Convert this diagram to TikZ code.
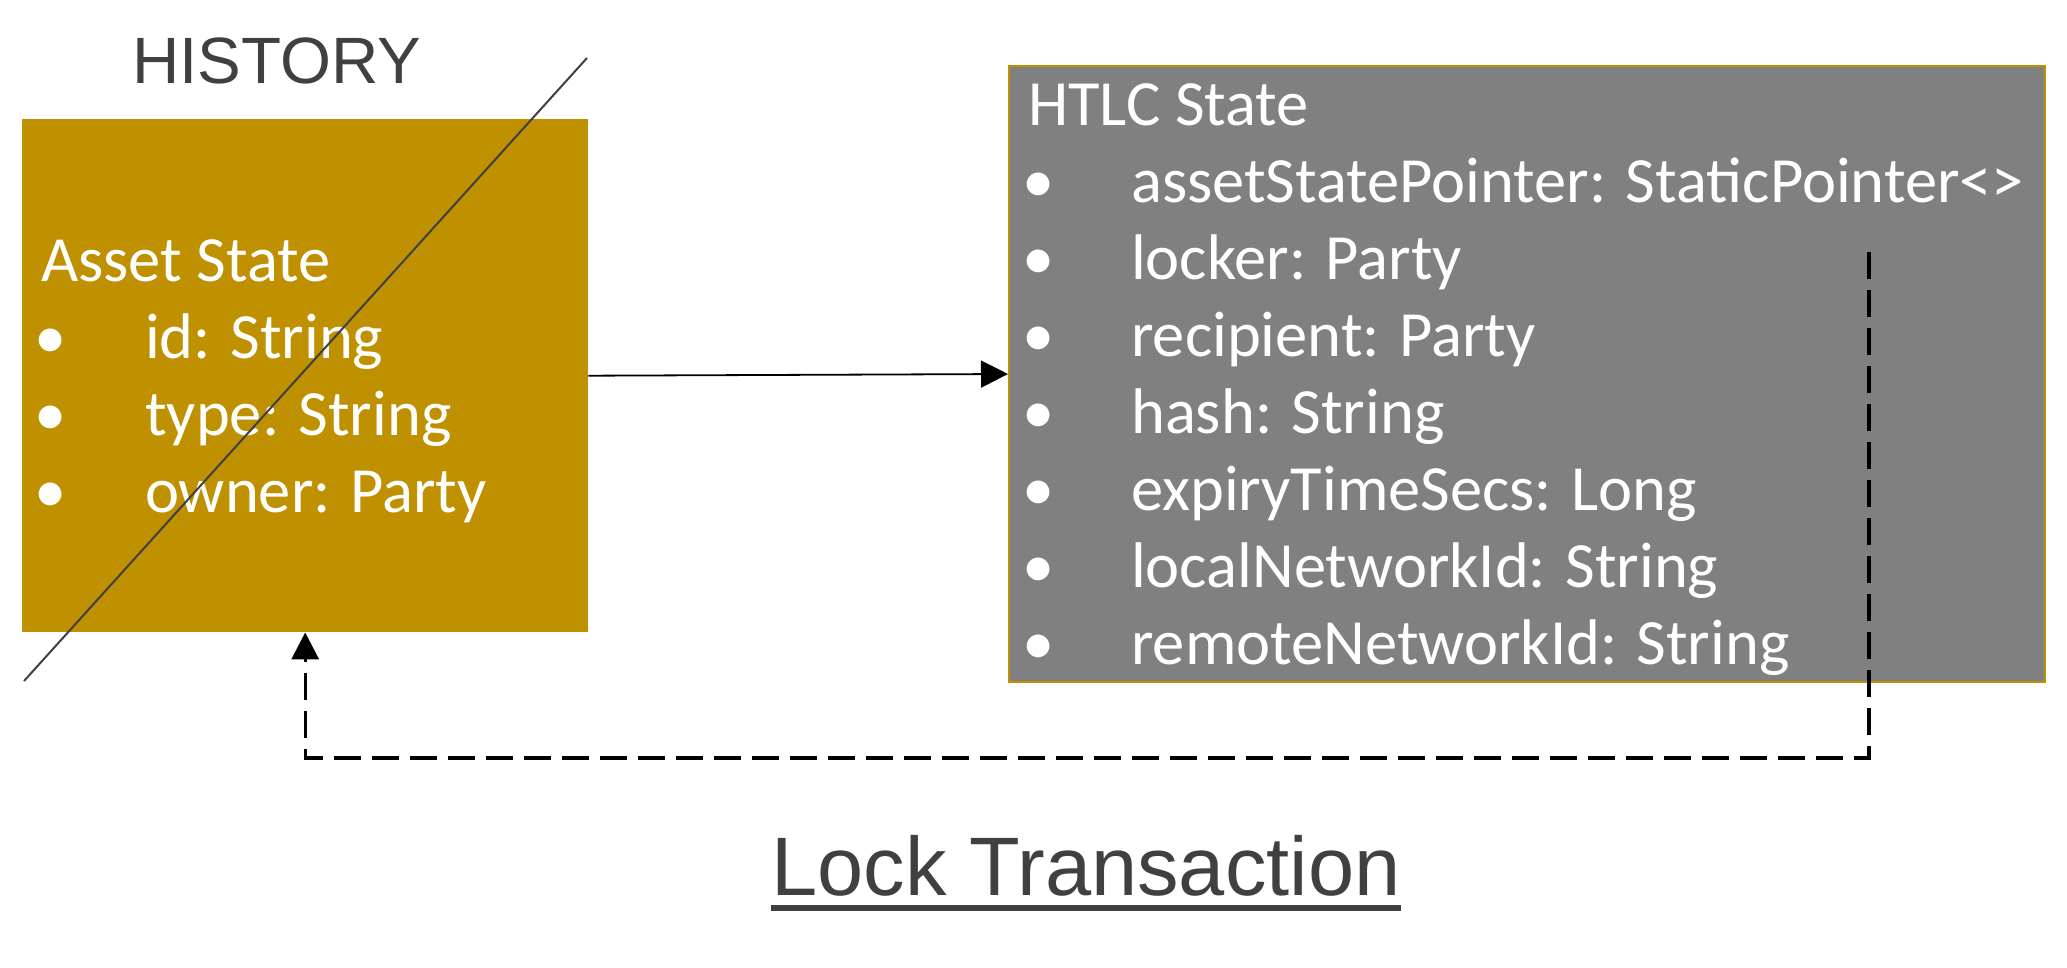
\documentclass[tikz,border=0pt]{standalone}
\usepackage{fontspec}
\setmainfont{Carlito}
\newfontfamily\arialfont{Liberation Sans}
\usetikzlibrary{arrows.meta}
\definecolor{gold}{HTML}{BF9000}
\definecolor{boxgray}{HTML}{808080}
\definecolor{ink}{HTML}{404040}
\tikzset{
  statebox/.style={rectangle, inner sep=0pt, anchor=north west},
  txt/.style={inner sep=0pt, anchor=base west, text=white, font=\fontsize{64.5}{77}\selectfont},
  bul/.style={inner sep=0pt, anchor=base, text=white, font=\fontsize{64.5}{77}\selectfont},
  conn/.style={line width=1.8pt, -{Triangle[length=27pt,width=27pt]}},
  dconn/.style={line width=3.2pt, dash pattern=on 27pt off 11pt, -{Triangle[length=27pt,width=27pt]}}
}
\begin{document}
\begin{tikzpicture}[x=1pt,y=-1pt]
\useasboundingbox (0,0) rectangle (2067,967);
% boxes
\node[statebox, fill=gold, minimum width=566pt, minimum height=513pt] (asset) at (22,119) {};
\node[statebox, fill=boxgray, draw=gold, line width=2pt, minimum width=1036pt, minimum height=616pt] (htlc) at (1008,65) {};
% heading
\node[inner sep=0pt, anchor=base west, text=ink, font=\arialfont\fontsize{65.5}{65.5}\selectfont] (hist) at (132,83) {HISTORY};
% asset text
\node[txt] (at) at (41,281) {Asset State};
\node[bul] (ab1) at (51,358) {•};
\node[txt] (a1) at (145,358) {id: String};
\node[bul] (ab2) at (51,435) {•};
\node[txt] (a2) at (145,435) {type: String};
\node[bul] (ab3) at (51,512) {•};
\node[txt] (a3) at (145,512) {owner: Party};
% htlc text
\node[txt] (ht) at (1028,125) {HTLC State};
\node[bul] (hb1) at (1039,202) {•};
\node[txt] (h1) at (1131,202) {assetStatePointer: StaticPointer<>};
\node[bul] (hb2) at (1039,279) {•};
\node[txt] (h2) at (1131,279) {locker: Party};
\node[bul] (hb3) at (1039,356) {•};
\node[txt] (h3) at (1131,356) {recipient: Party};
\node[bul] (hb4) at (1039,433) {•};
\node[txt] (h4) at (1131,433) {hash: String};
\node[bul] (hb5) at (1039,510) {•};
\node[txt] (h5) at (1131,510) {expiryTimeSecs: Long};
\node[bul] (hb6) at (1039,587) {•};
\node[txt] (h6) at (1131,587) {localNetworkId: String};
\node[bul] (hb7) at (1039,664) {•};
\node[txt] (h7) at (1131,664) {remoteNetworkId: String};
% strike line
\coordinate (s1) at (24,681);
\coordinate (s2) at (587,58);
\draw[ink, line width=2pt] (s1) -- (s2);
% connectors
\draw[conn] (asset.east) -- (htlc.west);
\coordinate (dstart) at (1869,252);
\coordinate (dcorner) at (1869,758);
\draw[dconn] (dstart) -- (dcorner) -| (asset.south);
% title
\node[inner sep=0pt, anchor=base, text=ink, font=\arialfont\fontsize{83}{83}\selectfont] (lock) at (1086,895) {Lock Transaction};
\draw[ink, line width=6pt] ([yshift=-13pt]lock.base west) -- ([yshift=-13pt]lock.base east);
\end{tikzpicture}
\end{document}
